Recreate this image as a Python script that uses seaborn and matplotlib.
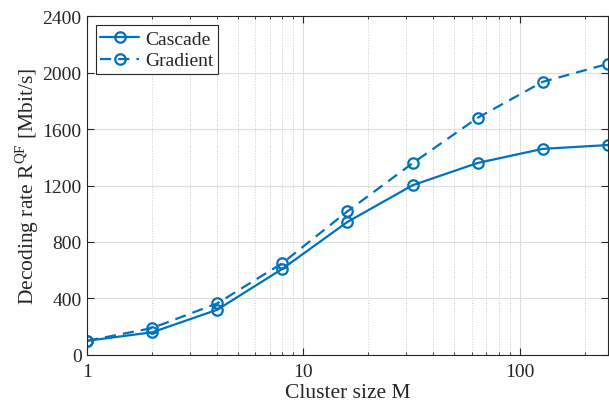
import numpy as np
import pandas as pd
import matplotlib
matplotlib.use("Agg")
import matplotlib.pyplot as plt
import seaborn as sns
from matplotlib.ticker import LogLocator, FixedLocator, NullFormatter

cluster_size = [1, 2, 4, 8, 16, 32, 64, 128, 256]
cascade = [100, 160, 320, 610, 942, 1202, 1360, 1460, 1487]
gradient = [100, 190, 365, 650, 1017, 1358, 1680, 1935, 2062]
series_names = ["Cascade", "Gradient"]
y_ticks = [0, 400, 800, 1200, 1600, 2000, 2400]
x_ticks = [1, 10, 100]

sns.set_style("ticks")
plt.rcParams["font.family"] = ["Liberation Serif", "DejaVu Serif"]
plt.rcParams["mathtext.fontset"] = "custom"
plt.rcParams["mathtext.rm"] = "Liberation Serif"

blue = "#0072BD"
fig = plt.figure(figsize=(6.09, 4.10), dpi=100)
ax = fig.add_axes([0.143, 0.132, 0.855, 0.826])

df = pd.DataFrame({"M": cluster_size * 2,
                   "rate": cascade + gradient,
                   "series": [series_names[0]] * len(cluster_size) + [series_names[1]] * len(cluster_size)})

styles = {"Cascade": "-", "Gradient": (0, (5, 3.2))}
for name in series_names:
    sub = df[df["series"] == name]
    sns.lineplot(data=sub, x="M", y="rate", ax=ax, color=blue, linestyle=styles[name],
                 marker="o", markersize=7.5, markerfacecolor="none", markeredgecolor=blue,
                 markeredgewidth=1.6, linewidth=1.6, label=name, estimator=None)

ax.set_xscale("log")
ax.set_xlim(1, 256)
ax.set_ylim(0, 2400)
ax.set_yticks(y_ticks)
ax.xaxis.set_major_locator(FixedLocator(x_ticks))
ax.set_xticklabels([str(t) for t in x_ticks])
ax.xaxis.set_minor_locator(LogLocator(base=10, subs=np.arange(2, 10)))
ax.xaxis.set_minor_formatter(NullFormatter())

ax.grid(True, which="major", color="#dedede", linewidth=0.8, linestyle="-")
ax.grid(True, which="minor", axis="x", color="#cccccc", linewidth=0.7, linestyle=":")
ax.set_axisbelow(True)

for s in ax.spines.values():
    s.set_visible(True)
    s.set_color("#262626")
    s.set_linewidth(0.8)
ax.tick_params(which="both", direction="in", top=True, right=True, colors="#262626",
               labelsize=14, labelcolor="#262626")
ax.tick_params(which="major", length=5)
ax.tick_params(which="minor", length=2.5)
ax.tick_params(axis="x", pad=6)
ax.tick_params(axis="y", pad=4)

ax.set_xlabel("Cluster size M", fontsize=15.5, color="#262626", labelpad=2)
ax.set_ylabel(r"Decoding rate R$^{\mathrm{QF}}$ [Mbit/s]", fontsize=15.5, color="#262626", labelpad=1)

leg = ax.legend(loc="upper left", bbox_to_anchor=(0.005, 0.99), fontsize=14, frameon=True,
                fancybox=False, edgecolor="#262626", handlelength=2.0, handletextpad=0.3,
                borderpad=0.25, labelspacing=0.2, borderaxespad=0.3)
leg.get_frame().set_linewidth(0.8)
leg.get_frame().set_alpha(1)

fig.savefig("out.png", dpi=100)
